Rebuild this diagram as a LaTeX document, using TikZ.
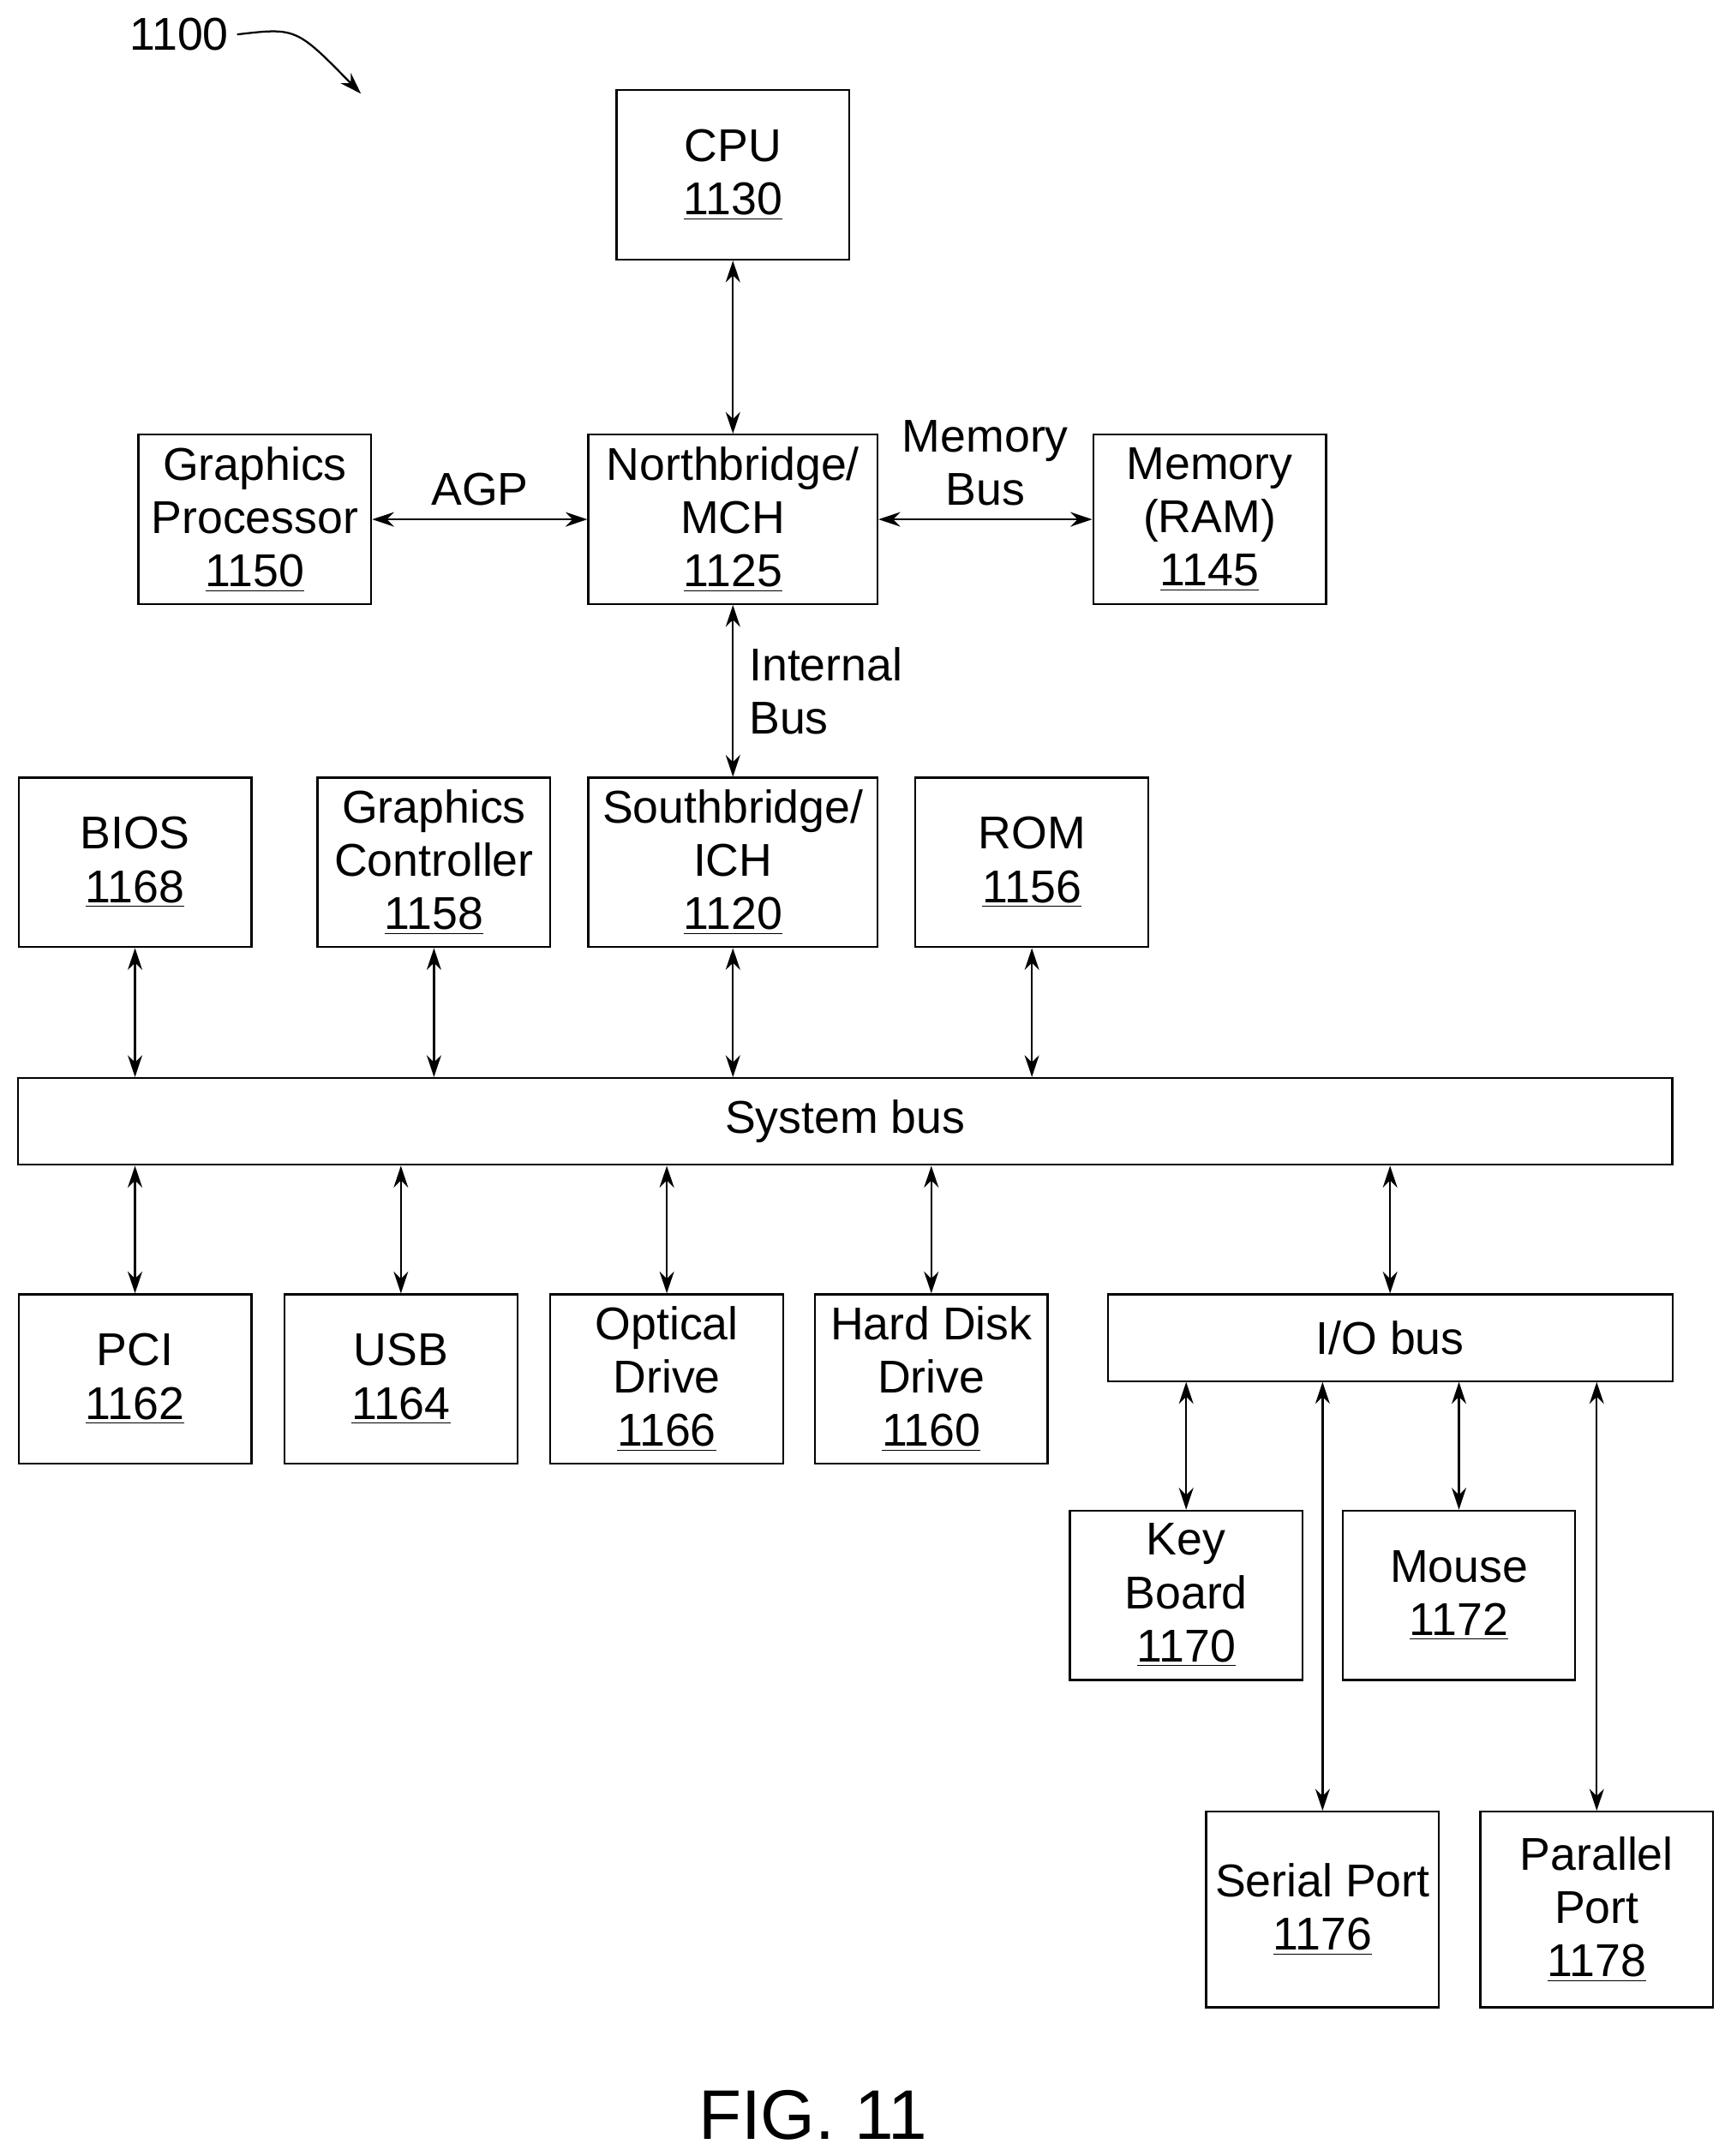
\documentclass[tikz,border=0pt]{standalone}
\usepackage{fontspec}
\setmainfont{Liberation Sans}
\usetikzlibrary{arrows.meta,positioning,calc}

\tikzset{
  blk/.style={draw, thick, minimum width=3.38cm, minimum height=2.46cm,
    align=center, inner sep=2pt},
  bus/.style={draw, thick, minimum height=1.26cm, inner sep=0pt},
  arr/.style={thick, {Stealth[length=9pt,width=6pt]}-{Stealth[length=9pt,width=6pt]}},
  lbl/.style={align=left}
}

\begin{document}
\begin{tikzpicture}[x=0.02cm, y=-0.02cm, font=\fontsize{19}{22}\selectfont]
  \useasboundingbox (0,0) rectangle (1256,1565);
  % Top level
  \node[blk] (cpu) at (532,127) {CPU\\\underline{1130}};
  \node[blk] (gp) at (185,377) {Graphics\\Processor\\\underline{1150}};
  \node[blk, minimum width=4.2cm] (nb) at (532,377) {Northbridge/\\MCH\\\underline{1125}};
  \node[blk] (mem) at (878,377) {Memory\\(RAM)\\\underline{1145}};
  % Second row
  \node[blk] (bios) at (98,626) {BIOS\\\underline{1168}};
  \node[blk] (gc) at (315,626) {Graphics\\Controller\\\underline{1158}};
  \node[blk, minimum width=4.2cm] (sb) at (532,626) {Southbridge/\\ICH\\\underline{1120}};
  \node[blk] (rom) at (749,626) {ROM\\\underline{1156}};
  % Buses
  \node[bus, minimum width=24.02cm] (sysbus) at (613.5,814) {System bus};
  \node[bus, minimum width=8.2cm] (iobus) at (1009,971) {I/O bus};
  % Devices
  \node[blk] (pci) at (98,1001) {PCI\\\underline{1162}};
  \node[blk] (usb) at (291,1001) {USB\\\underline{1164}};
  \node[blk] (opt) at (484,1001) {Optical\\Drive\\\underline{1166}};
  \node[blk] (hdd) at (676,1001) {Hard Disk\\Drive\\\underline{1160}};
  \node[blk] (kbd) at (861,1158) {Key\\Board\\\underline{1170}};
  \node[blk] (mouse) at (1059,1158) {Mouse\\\underline{1172}};
  \node[blk, minimum height=2.84cm] (serial) at (960,1386) {Serial Port\\\underline{1176}};
  \node[blk, minimum height=2.84cm] (par) at (1159,1386) {Parallel\\Port\\\underline{1178}};
  % Connectors
  \draw[arr] (cpu) -- (nb);
  \draw[arr] (gp) -- node[above=2pt] {AGP} (nb);
  \draw[arr] (nb) -- node[above=2pt, align=center] {Memory\\Bus} (mem);
  \draw[arr] (nb) -- node[right=3pt, lbl] {Internal\\Bus} (sb);
  \foreach \n in {bios,gc,sb,rom}
    \draw[arr] (\n) -- (\n |- sysbus.north);
  \foreach \n in {pci,usb,opt,hdd}
    \draw[arr] (\n) -- (\n |- sysbus.south);
  \draw[arr] (iobus) -- (iobus |- sysbus.south);
  \foreach \n in {kbd,mouse,serial,par}
    \draw[arr] (\n) -- (\n |- iobus.south);
  % Labels
  \node (ref) at (130,25) {1100};
  \coordinate (refend) at (262,68);
  \draw[thick, -{Stealth[length=9pt,width=6pt]}] (ref.east) .. controls (215,20) .. (refend);
  \node[font=\fontsize{29}{32}\selectfont] (fig) at (590,1535) {FIG. 11};
\end{tikzpicture}
\end{document}
